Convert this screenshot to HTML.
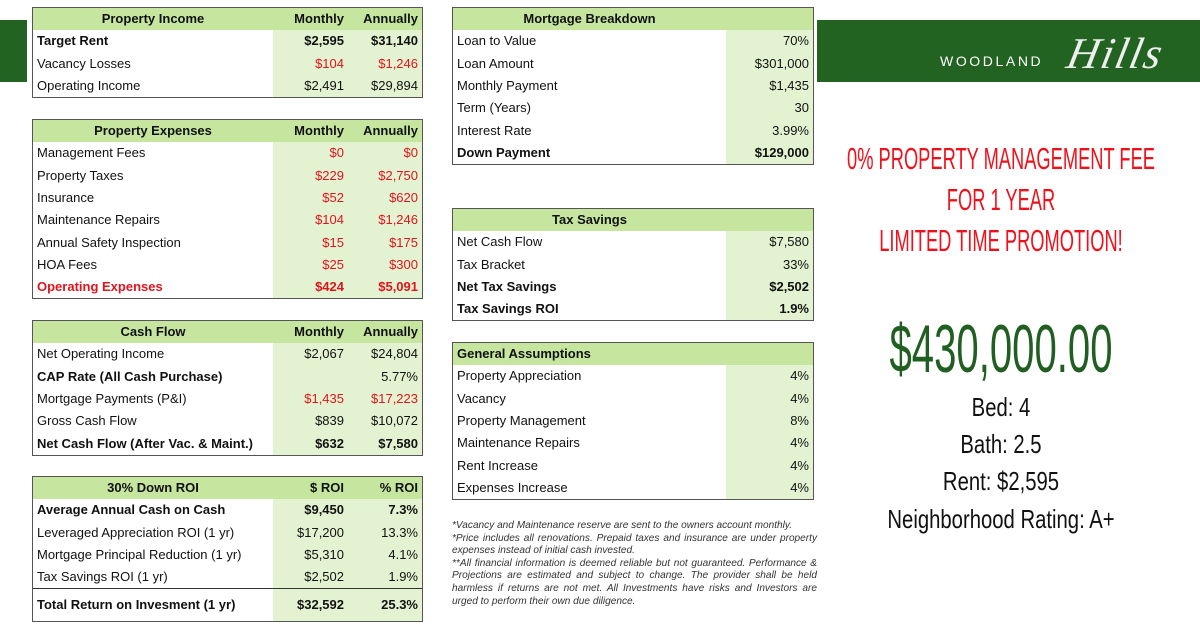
<!DOCTYPE html>
<html><head><meta charset="utf-8"><style>
body{margin:0;width:1200px;height:628px;background:#fff;position:relative;overflow:hidden;font-family:"Liberation Sans",sans-serif;}
.t{position:absolute;border:1px solid #555;border-collapse:collapse;font-size:13px;color:#111;}
.t table{border-collapse:collapse;width:100%;}
.t td{height:22.3px;padding:0 4px;white-space:nowrap;line-height:22px;}
.t tr.h td{background:#c6e6a0;font-weight:bold;}
.t td.v{background:#e3f3d2;text-align:right;}
.t tr.h td.v{background:#c6e6a0;}
.c{text-align:center}
.b td{font-weight:bold}
.r{color:#e0141e}
.L{left:32px;width:389px}
.M{left:452px;width:360px}
.ln{position:absolute;left:50%;white-space:nowrap;transform-origin:center;}
</style></head><body>
<div style="position:absolute;left:0;top:20px;width:27px;height:62px;background:#236322"></div>
<div style="position:absolute;left:817px;top:20px;width:383px;height:62px;background:#236322"></div>
<div style="position:absolute;left:940px;top:53px;color:#fff;font-size:14px;letter-spacing:2.6px;">WOODLAND</div>
<div style="position:absolute;left:1068px;top:28px;color:#eee;font-family:'Liberation Serif',serif;font-style:italic;font-size:44px;letter-spacing:2px;transform:skewX(-12deg);">Hills</div>

<!-- Property Income -->
<div class="t L" style="top:7px"><table><colgroup><col style="width:240px"><col style="width:75px"><col></colgroup>
<tr class="h"><td class="c">Property Income</td><td class="v">Monthly</td><td class="v">Annually</td></tr>
<tr class="b"><td>Target Rent</td><td class="v">$2,595</td><td class="v">$31,140</td></tr>
<tr><td>Vacancy Losses</td><td class="v r">$104</td><td class="v r">$1,246</td></tr>
<tr><td>Operating Income</td><td class="v">$2,491</td><td class="v">$29,894</td></tr>
</table></div>

<div class="t L" style="top:119px"><table><colgroup><col style="width:240px"><col style="width:75px"><col></colgroup>
<tr class="h"><td class="c">Property Expenses</td><td class="v">Monthly</td><td class="v">Annually</td></tr>
<tr><td>Management Fees</td><td class="v r">$0</td><td class="v r">$0</td></tr>
<tr><td>Property Taxes</td><td class="v r">$229</td><td class="v r">$2,750</td></tr>
<tr><td>Insurance</td><td class="v r">$52</td><td class="v r">$620</td></tr>
<tr><td>Maintenance Repairs</td><td class="v r">$104</td><td class="v r">$1,246</td></tr>
<tr><td>Annual Safety Inspection</td><td class="v r">$15</td><td class="v r">$175</td></tr>
<tr><td>HOA Fees</td><td class="v r">$25</td><td class="v r">$300</td></tr>
<tr class="b"><td class="r">Operating Expenses</td><td class="v r">$424</td><td class="v r">$5,091</td></tr>
</table></div>

<div class="t L" style="top:320px"><table><colgroup><col style="width:240px"><col style="width:75px"><col></colgroup>
<tr class="h"><td class="c">Cash Flow</td><td class="v">Monthly</td><td class="v">Annually</td></tr>
<tr><td>Net Operating Income</td><td class="v">$2,067</td><td class="v">$24,804</td></tr>
<tr class="b"><td>CAP Rate (All Cash Purchase)</td><td class="v"></td><td class="v" style="font-weight:normal">5.77%</td></tr>
<tr><td>Mortgage Payments (P&amp;I)</td><td class="v r">$1,435</td><td class="v r">$17,223</td></tr>
<tr><td>Gross Cash Flow</td><td class="v">$839</td><td class="v">$10,072</td></tr>
<tr class="b"><td>Net Cash Flow (After Vac. &amp; Maint.)</td><td class="v">$632</td><td class="v">$7,580</td></tr>
</table></div>

<div class="t L" style="top:476px"><table><colgroup><col style="width:240px"><col style="width:75px"><col></colgroup>
<tr class="h"><td class="c">30% Down ROI</td><td class="v">$ ROI</td><td class="v">% ROI</td></tr>
<tr class="b"><td>Average Annual Cash on Cash</td><td class="v">$9,450</td><td class="v">7.3%</td></tr>
<tr><td>Leveraged Appreciation ROI (1 yr)</td><td class="v">$17,200</td><td class="v">13.3%</td></tr>
<tr><td>Mortgage Principal Reduction (1 yr)</td><td class="v">$5,310</td><td class="v">4.1%</td></tr>
<tr><td>Tax Savings ROI (1 yr)</td><td class="v">$2,502</td><td class="v">1.9%</td></tr>
<tr class="b"><td style="height:32px;border-top:1.5px solid #333">Total Return on Invesment (1 yr)</td><td class="v" style="border-top:1.5px solid #333">$32,592</td><td class="v" style="border-top:1.5px solid #333">25.3%</td></tr>
</table></div>

<!-- Middle -->
<div class="t M" style="top:7px"><table><colgroup><col style="width:273px"><col></colgroup>
<tr class="h"><td class="c">Mortgage Breakdown</td><td class="v"></td></tr>
<tr><td>Loan to Value</td><td class="v">70%</td></tr>
<tr><td>Loan Amount</td><td class="v">$301,000</td></tr>
<tr><td>Monthly Payment</td><td class="v">$1,435</td></tr>
<tr><td>Term (Years)</td><td class="v">30</td></tr>
<tr><td>Interest Rate</td><td class="v">3.99%</td></tr>
<tr class="b"><td>Down Payment</td><td class="v">$129,000</td></tr>
</table></div>

<div class="t M" style="top:208px"><table><colgroup><col style="width:273px"><col></colgroup>
<tr class="h"><td class="c">Tax Savings</td><td class="v"></td></tr>
<tr><td>Net Cash Flow</td><td class="v">$7,580</td></tr>
<tr><td>Tax Bracket</td><td class="v">33%</td></tr>
<tr class="b"><td>Net Tax Savings</td><td class="v">$2,502</td></tr>
<tr class="b"><td>Tax Savings ROI</td><td class="v">1.9%</td></tr>
</table></div>

<div class="t M" style="top:342px"><table><colgroup><col style="width:273px"><col></colgroup>
<tr class="h"><td>General Assumptions</td><td class="v"></td></tr>
<tr><td>Property Appreciation</td><td class="v">4%</td></tr>
<tr><td>Vacancy</td><td class="v">4%</td></tr>
<tr><td>Property Management</td><td class="v">8%</td></tr>
<tr><td>Maintenance Repairs</td><td class="v">4%</td></tr>
<tr><td>Rent Increase</td><td class="v">4%</td></tr>
<tr><td>Expenses Increase</td><td class="v">4%</td></tr>
</table></div>

<div style="position:absolute;left:452px;top:520px;width:365px;font-size:10.1px;font-style:italic;line-height:12.6px;color:#333;text-align:justify;">
*Vacancy and Maintenance reserve are sent to the owners account monthly.<br>
*Price includes all renovations. Prepaid taxes and insurance are under property expenses instead of initial cash invested.<br>
**All financial information is deemed reliable but not guaranteed. Performance &amp; Projections are estimated and subject to change. The provider shall be held harmless if returns are not met. All Investments have risks and Investors are urged to perform their own due diligence.
</div>

<!-- Right -->
<div style="position:absolute;left:1001px;top:0;width:0;height:628px;">
<div class="ln" style="top:141px;font-size:31px;color:#f0101a;transform:translateX(-50%) scaleX(0.59)">0% PROPERTY MANAGEMENT FEE</div>
<div class="ln" style="top:182px;font-size:31px;color:#f0101a;transform:translateX(-50%) scaleX(0.59)">FOR 1 YEAR</div>
<div class="ln" style="top:223px;font-size:31px;color:#f0101a;transform:translateX(-50%) scaleX(0.59)">LIMITED TIME PROMOTION!</div>
<div class="ln" style="top:310px;font-size:68px;color:#215e21;transform:translateX(-50%) scaleX(0.59)">$430,000.00</div>
<div class="ln" style="top:392px;font-size:26px;color:#111;transform:translateX(-50%) scaleX(0.78)">Bed: 4</div>
<div class="ln" style="top:429px;font-size:26px;color:#111;transform:translateX(-50%) scaleX(0.78)">Bath: 2.5</div>
<div class="ln" style="top:466px;font-size:26px;color:#111;transform:translateX(-50%) scaleX(0.78)">Rent: $2,595</div>
<div class="ln" style="top:504px;font-size:26px;color:#111;transform:translateX(-50%) scaleX(0.78)">Neighborhood Rating: A+</div>
</div>
</body></html>
